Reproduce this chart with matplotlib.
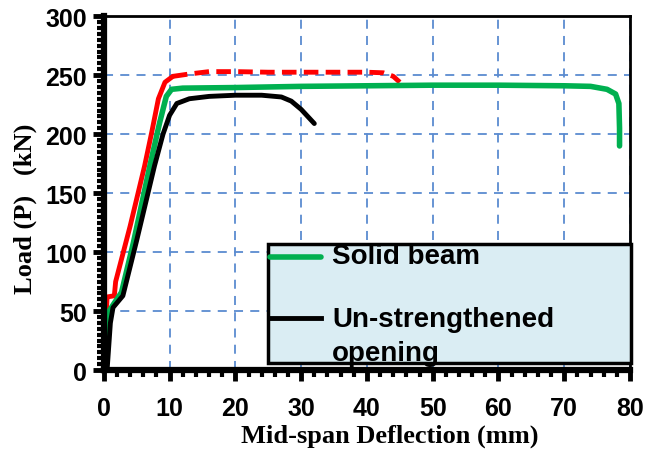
import matplotlib.pyplot as plt
from matplotlib.ticker import MultipleLocator
from matplotlib.patches import Rectangle

# load-deflection curves (deflection mm, load kN)
red_x = [0, 0.3, 0.5, 1.6, 1.8, 4.0, 6.2, 7.3, 8.3, 9.3, 10.5]
red_y = [8, 40, 62, 63, 75, 122, 173, 202, 230, 244, 249]
red_dash_x = [10.5, 13, 16, 20, 25, 30, 35, 40, 42.5, 44, 45]
red_dash_y = [249, 251, 253, 253, 252.5, 252.5, 252.5, 252.5, 252, 249, 244]

solid_x = [0.3, 0.8, 1.5, 2.7, 4.5, 7.0, 8.5, 9.5, 10.3, 12, 20, 30, 40, 50, 60, 70, 74, 76.5, 77.8, 78.3, 78.4, 78.4]
solid_y = [2, 50, 56, 66, 108, 173, 210, 232, 238, 239, 239.5, 240.5, 241, 241.5, 241.5, 241, 240.5, 238, 234, 226, 205, 190]

unstr_x = [0.5, 1.0, 1.4, 2.9, 5.0, 7.7, 9.0, 10.0, 11.1, 13, 16, 20, 24, 27, 28.5, 30, 32]
unstr_y = [0, 40, 53, 63, 110, 173, 200, 216, 226, 230, 232, 233, 233, 231.5, 228, 221, 209]

legend_labels = ['Solid beam', 'Un-strengthened', 'opening']

fig = plt.figure(figsize=(6.57, 4.52), dpi=100)
ax = fig.add_axes([0.158, 0.179, 0.801, 0.783])

ax.plot(red_x, red_y, color='#ff0000', lw=3.5, solid_capstyle='round')
ax.plot(red_dash_x, red_dash_y, color='#ff0000', lw=3.5, ls=(0, (3, 1.5)))
ax.plot(solid_x, solid_y, color='#00b050', lw=4,
        solid_capstyle='round', solid_joinstyle='round')
ax.plot(unstr_x, unstr_y, color='black', lw=3.5,
        solid_capstyle='round', solid_joinstyle='round')

ax.set_xlim(0, 80)
ax.set_ylim(0, 300)
ax.xaxis.set_major_locator(MultipleLocator(10))
ax.xaxis.set_minor_locator(MultipleLocator(2))
ax.yaxis.set_major_locator(MultipleLocator(50))
ax.yaxis.set_minor_locator(MultipleLocator(5))

ax.grid(True, which='major', color='#5b8bd0', ls=(0, (5, 4)), lw=1.3)
ax.set_axisbelow(True)

for side in ['left', 'bottom']:
    ax.spines[side].set_linewidth(4.5)
for side in ['top', 'right']:
    ax.spines[side].set_linewidth(2)

ax.tick_params(which='major', direction='out', length=8, width=3.5, labelsize=18)
ax.tick_params(which='minor', direction='out', length=5, width=3)
ax.tick_params(axis='x', which='major', pad=11)
ax.tick_params(axis='y', which='major', pad=4)
for lab in ax.get_xticklabels() + ax.get_yticklabels():
    lab.set_fontweight('bold')
    lab.set_family('Liberation Sans')

ax.set_xlabel('Mid-span Deflection (mm)', family='Liberation Serif',
              fontweight='bold', fontsize=19, va='center')
ax.xaxis.set_label_coords(0.544, -0.184)
ax.set_ylabel('Load (P)   (kN)', family='Liberation Serif',
              fontweight='bold', fontsize=19, va='center')
ax.yaxis.set_label_coords(-0.150, 0.458)

# legend box drawn by hand so that it matches the fixed, slightly cramped frame
tr = ax.transAxes
box = Rectangle((0.312, 0.02), 0.69, 0.336, transform=tr, facecolor='#daedf3',
                edgecolor='black', lw=2.5, clip_on=False, zorder=4)
ax.add_patch(box)
ax.plot([0.315, 0.412], [0.319, 0.319], transform=tr, color='#00b050', lw=4,
        solid_capstyle='round', clip_on=False, zorder=5)
ax.plot([0.315, 0.412], [0.147, 0.147], transform=tr, color='black', lw=3.5,
        clip_on=False, zorder=5)
font = dict(family='Liberation Sans', fontweight='bold', fontsize=20,
            transform=tr, va='center', ha='left', zorder=5)
ax.text(0.434, 0.322, legend_labels[0], **font)
ax.text(0.434, 0.143, legend_labels[1], **font)
ax.text(0.434, 0.048, legend_labels[2], **font)

fig.savefig('out.png', dpi=100)
